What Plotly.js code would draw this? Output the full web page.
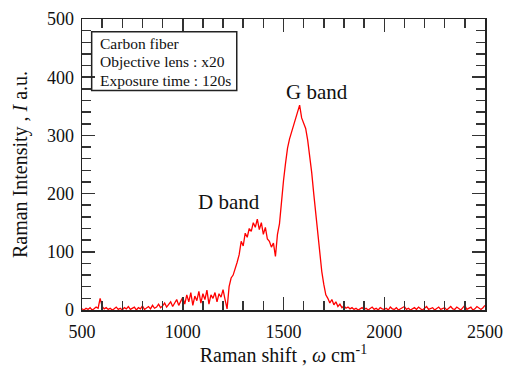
<!DOCTYPE html>
<html>
<head>
<meta charset="utf-8">
<script src="https://cdn.plot.ly/plotly-3.0.1.min.js"></script>
<style>html,body{margin:0;padding:0;background:#fff;}#chart{width:505px;height:371px;}</style>
</head>
<body>
<div id="chart"></div>
<script>
// Raman shift (cm^-1)
const ramanShift = [
 500,510,520,530,540,550,560,570,580,590,600,610,620,630,640,650,660,670,680,690,
 700,710,720,730,740,750,760,770,780,790,800,810,820,830,840,850,860,870,880,890,
 900,910,920,930,940,950,960,970,980,990,1000,1010,1020,1030,1040,1050,1060,1070,1080,1090,
 1100,1110,1120,1130,1140,1150,1160,1170,1180,1190,1200,1210,1220,1230,1240,1250,1260,1270,1280,1290,
 1300,1310,1320,1330,1340,1350,1360,1370,1380,1390,1400,1410,1420,1430,1440,1450,1460,1470,1480,1490,
 1500,1510,1520,1530,1540,1550,1560,1570,1580,1590,1600,1610,1620,1630,1640,1650,1660,1670,1680,1690,
 1700,1710,1720,1730,1740,1750,1760,1770,1780,1790,1800,1810,1820,1830,1840,1850,1860,1870,1880,1890,
 1900,1910,1920,1930,1940,1950,1960,1970,1980,1990,2000,2010,2020,2030,2040,2050,2060,2070,2080,2090,
 2100,2110,2120,2130,2140,2150,2160,2170,2180,2190,2200,2210,2220,2230,2240,2250,2260,2270,2280,2290,
 2300,2310,2320,2330,2340,2350,2360,2370,2380,2390,2400,2410,2420,2430,2440,2450,2460,2470,2480,2490,
 2500
];
// Raman intensity (a.u.)
const intensity = [
 2,0,3,1,4,0,2,5,3,20,6,2,4,1,3,0,2,5,1,3,
 0,4,2,6,1,3,5,0,4,2,7,1,3,6,2,8,3,5,10,4,
 7,12,5,9,14,6,11,18,8,15,22,10,26,14,30,8,24,16,32,12,
 28,18,34,10,26,20,30,14,28,22,35,18,2,40,55,60,70,82,95,118,
 110,132,125,140,135,150,142,156,138,150,130,142,122,118,108,115,92,130,148,188,
 222,252,278,294,306,318,328,338,352,330,322,312,292,266,236,200,165,128,96,66,
 44,26,20,12,18,9,14,6,10,4,7,3,5,2,4,1,3,0,2,4,
 1,3,0,2,5,1,3,0,4,2,1,3,0,5,2,1,4,0,2,3,
 6,1,3,0,2,4,1,5,2,0,3,6,1,2,4,0,3,5,1,2,
 4,0,3,6,2,1,5,2,0,4,8,1,3,5,0,2,6,3,1,4,
 8
];
const xTickVals = [500,1000,1500,2000,2500];
const yTickVals = [0,100,200,300,400,500];
const infoLines = ["Carbon fiber","Objective lens : x20","Exposure time : 120s"];
const bandLabels = ["D band","G band"];
const bandX = [1230,1665];
const bandY = [186,375];

const serif = "'Liberation Serif','Times New Roman',serif";
const axisCommon = {
  showgrid:false, zeroline:false, showline:true, linecolor:'#222', linewidth:1.5,
  mirror:'ticks', ticks:'inside', ticklen:13, tickwidth:1.5, tickcolor:'#333',
  tickfont:{family:serif,size:18,color:'#111'}
};
const infoY = [0.917, 0.853, 0.790];
const layout = {
  width:505, height:371,
  margin:{l:82,r:20,t:19,b:61},
  paper_bgcolor:'#fff', plot_bgcolor:'#fff',
  showlegend:false,
  xaxis:Object.assign({}, axisCommon, {
    range:[500,2500], tickvals:xTickVals, ticktext:xTickVals.map(String),
    ticklabelstandoff:5,
    minor:{dtick:100, tick0:500, ticks:'inside', ticklen:9, tickwidth:1.5, tickcolor:'#333'},
    title:{text:"Raman shift , <i>ω</i> cm<sup>-1</sup>", font:{family:serif,size:20,color:'#111'}, standoff:6}
  }),
  yaxis:Object.assign({}, axisCommon, {
    range:[0,500], tickvals:yTickVals, ticktext:yTickVals.map(String),
    ticklabelstandoff:3,
    minor:{dtick:20, tick0:0, ticks:'inside', ticklen:9, tickwidth:1.5, tickcolor:'#333'},
    title:{text:"Raman Intensity , <i>I</i> a.u.", font:{family:serif,size:20,color:'#111'}, standoff:14}
  }),
  shapes:[{type:'rect', xref:'paper', yref:'paper', x0:0.024, x1:0.384, y0:0.754, y1:0.956,
           line:{color:'#222', width:1.5}, fillcolor:'rgba(0,0,0,0)'}],
  annotations:[
    ...infoLines.map((t,i)=>({xref:'paper', yref:'paper', x:0.040, y:infoY[i], xanchor:'left', yanchor:'middle',
     align:'left', showarrow:false, text:t, font:{family:serif,size:15.5,color:'#111'}})),
    ...bandLabels.map((t,i)=>({x:bandX[i], y:bandY[i], xref:'x', yref:'y', showarrow:false, text:t,
      font:{family:serif,size:21,color:'#111'}}))
  ]
};
Plotly.newPlot('chart', [{
  x:ramanShift, y:intensity, type:'scatter', mode:'lines',
  line:{color:'#ff0000', width:1.3}, hoverinfo:'skip'
}], layout, {displayModeBar:false, staticPlot:true});
</script>
</body>
</html>
